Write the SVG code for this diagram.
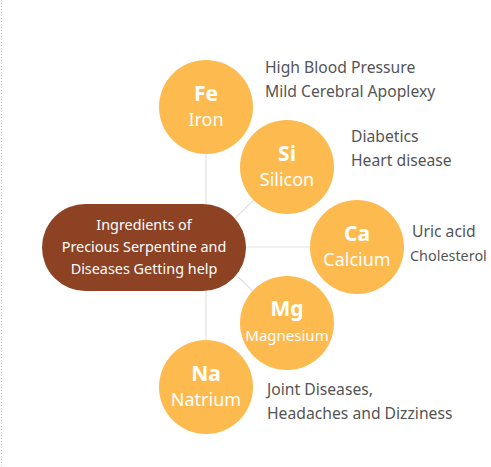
<svg xmlns="http://www.w3.org/2000/svg" width="491" height="467" viewBox="0 0 491 467">
<style>
.c{fill:#fdba4f}
.sym{font-family:"Noto Sans",sans-serif;font-weight:bold;font-size:21px;fill:#fff;text-anchor:middle}
.nm{font-family:"Noto Sans",sans-serif;font-size:18px;fill:#fff;text-anchor:middle}
.d{font-family:"Noto Sans",sans-serif;font-size:15.7px;fill:#555}
.t{font-family:"Noto Sans",sans-serif;font-size:14.4px;fill:#fff;text-anchor:middle}
.ln{stroke:#e2e2e2;stroke-width:1.2;fill:none}
</style>
<rect width="491" height="467" fill="#fff"/>
<line x1="1.5" y1="0" x2="1.5" y2="467" stroke="#c8c8c8" stroke-dasharray="1,2"/>
<g id="connectors">
<line class="ln" x1="206" y1="107" x2="206" y2="387"/>
<line class="ln" x1="206" y1="247" x2="357" y2="247"/>
<line class="ln" x1="206" y1="247" x2="287" y2="167"/>
<line class="ln" x1="206" y1="247" x2="287" y2="323"/>
</g>
<g id="center">
<rect x="42" y="204" width="204" height="87" rx="43.5" fill="#8e4224"/>
<text class="t" x="144" y="230">Ingredients of</text>
<text class="t" x="144" y="252">Precious Serpentine and</text>
<text class="t" x="144" y="274">Diseases Getting help</text>
</g>
<g id="fe">
<circle class="c" cx="206" cy="107" r="47"/>
<text class="sym" x="206" y="101">Fe</text>
<text class="nm" x="206" y="126">Iron</text>
<text class="d" x="265" y="73">High Blood Pressure</text>
<text class="d" x="265" y="97">Mild Cerebral Apoplexy</text>
</g>
<g id="si">
<circle class="c" cx="287" cy="167" r="47"/>
<text class="sym" x="287" y="161">Si</text>
<text class="nm" x="287" y="186">Silicon</text>
<text class="d" x="351" y="142">Diabetics</text>
<text class="d" x="351" y="166">Heart disease</text>
</g>
<g id="ca">
<circle class="c" cx="357" cy="247" r="47"/>
<text class="sym" x="357" y="241">Ca</text>
<text class="nm" x="357" y="266">Calcium</text>
<text class="d" x="412" y="237">Uric acid</text>
<text class="d" x="410" y="261" style="font-size:14.4px">Cholesterol</text>
</g>
<g id="mg">
<circle class="c" cx="287" cy="323" r="47"/>
<text class="sym" x="287" y="316">Mg</text>
<text class="nm" x="287" y="341" style="font-size:15px">Magnesium</text>
</g>
<g id="na">
<circle class="c" cx="206" cy="387" r="47"/>
<text class="sym" x="206" y="381">Na</text>
<text class="nm" x="206" y="406">Natrium</text>
<text class="d" x="267" y="395">Joint Diseases,</text>
<text class="d" x="267" y="419">Headaches and Dizziness</text>
</g>
</svg>
